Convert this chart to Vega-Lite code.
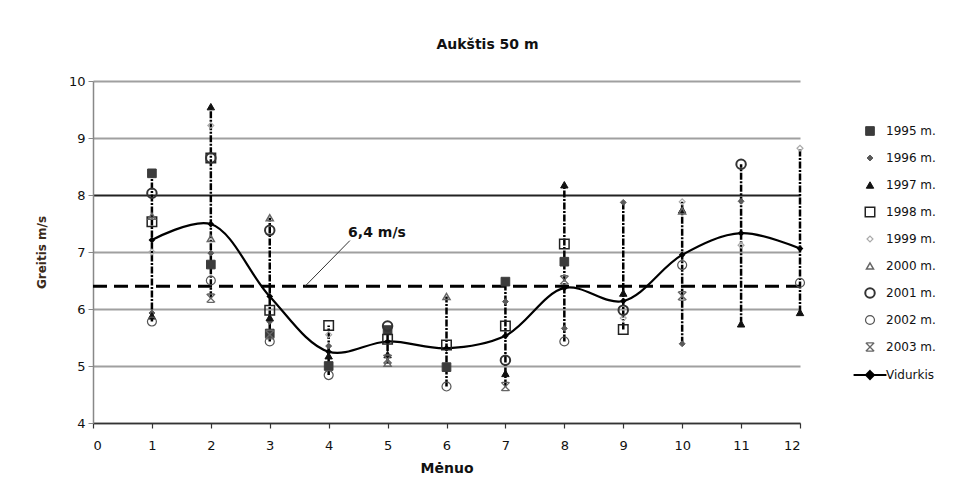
{
  "$schema": "https://vega.github.io/schema/vega-lite/v6.json",
  "width": 707,
  "height": 342,
  "autosize": {"type": "none"},
  "padding": {"left": 93, "top": 81, "right": 177, "bottom": 61},
  "background": "white",
  "title": {"text": "Aukštis 50 m", "font": "DejaVu Sans", "fontSize": 14, "fontWeight": "bold", "color": "#111", "anchor": "middle", "dx": 41, "offset": 23},
  "config": {"view": {"stroke": null}},
  "datasets": {
    "obs": [
      {"m": 1, "yr": "1995 m.", "v": 8.38}, {"m": 1, "yr": "1996 m.", "v": 5.93}, {"m": 1, "yr": "1997 m.", "v": 5.88}, {"m": 1, "yr": "1998 m.", "v": 7.53}, {"m": 1, "yr": "1999 m.", "v": 7.0}, {"m": 1, "yr": "2000 m.", "v": 7.63}, {"m": 1, "yr": "2001 m.", "v": 8.03}, {"m": 1, "yr": "2002 m.", "v": 5.78},
      {"m": 2, "yr": "1995 m.", "v": 6.78}, {"m": 2, "yr": "1996 m.", "v": 6.98}, {"m": 2, "yr": "1997 m.", "v": 9.55}, {"m": 2, "yr": "1998 m.", "v": 8.65}, {"m": 2, "yr": "1999 m.", "v": 9.22}, {"m": 2, "yr": "2000 m.", "v": 7.24}, {"m": 2, "yr": "2001 m.", "v": 8.65}, {"m": 2, "yr": "2002 m.", "v": 6.5}, {"m": 2, "yr": "2003 m.", "v": 6.19},
      {"m": 3, "yr": "1995 m.", "v": 5.57}, {"m": 3, "yr": "1996 m.", "v": 5.78}, {"m": 3, "yr": "1997 m.", "v": 5.85}, {"m": 3, "yr": "1998 m.", "v": 5.98}, {"m": 3, "yr": "2000 m.", "v": 7.6}, {"m": 3, "yr": "2001 m.", "v": 7.38}, {"m": 3, "yr": "2002 m.", "v": 5.43}, {"m": 3, "yr": "2003 m.", "v": 5.55},
      {"m": 4, "yr": "1995 m.", "v": 5.0}, {"m": 4, "yr": "1996 m.", "v": 5.35}, {"m": 4, "yr": "1997 m.", "v": 5.18}, {"m": 4, "yr": "1998 m.", "v": 5.71}, {"m": 4, "yr": "1999 m.", "v": 5.55}, {"m": 4, "yr": "2002 m.", "v": 4.84},
      {"m": 5, "yr": "1995 m.", "v": 5.63}, {"m": 5, "yr": "1997 m.", "v": 5.2}, {"m": 5, "yr": "1998 m.", "v": 5.47}, {"m": 5, "yr": "2000 m.", "v": 5.05}, {"m": 5, "yr": "2001 m.", "v": 5.7}, {"m": 5, "yr": "2003 m.", "v": 5.12},
      {"m": 6, "yr": "1995 m.", "v": 4.98}, {"m": 6, "yr": "1998 m.", "v": 5.37}, {"m": 6, "yr": "2000 m.", "v": 6.22}, {"m": 6, "yr": "2002 m.", "v": 4.64},
      {"m": 7, "yr": "1995 m.", "v": 6.48}, {"m": 7, "yr": "1996 m.", "v": 6.13}, {"m": 7, "yr": "1997 m.", "v": 4.87}, {"m": 7, "yr": "1998 m.", "v": 5.7}, {"m": 7, "yr": "2001 m.", "v": 5.1}, {"m": 7, "yr": "2003 m.", "v": 4.64},
      {"m": 8, "yr": "1995 m.", "v": 6.83}, {"m": 8, "yr": "1996 m.", "v": 5.66}, {"m": 8, "yr": "1997 m.", "v": 8.18}, {"m": 8, "yr": "1998 m.", "v": 7.14}, {"m": 8, "yr": "2002 m.", "v": 5.43}, {"m": 8, "yr": "2003 m.", "v": 6.51},
      {"m": 9, "yr": "1996 m.", "v": 7.87}, {"m": 9, "yr": "1997 m.", "v": 6.28}, {"m": 9, "yr": "1998 m.", "v": 5.64}, {"m": 9, "yr": "1999 m.", "v": 5.84}, {"m": 9, "yr": "2001 m.", "v": 5.98},
      {"m": 10, "yr": "1996 m.", "v": 5.39}, {"m": 10, "yr": "1997 m.", "v": 7.74}, {"m": 10, "yr": "1999 m.", "v": 7.88}, {"m": 10, "yr": "2000 m.", "v": 7.72}, {"m": 10, "yr": "2002 m.", "v": 6.77}, {"m": 10, "yr": "2003 m.", "v": 6.23},
      {"m": 11, "yr": "1996 m.", "v": 7.89}, {"m": 11, "yr": "1997 m.", "v": 5.74}, {"m": 11, "yr": "1999 m.", "v": 7.12}, {"m": 11, "yr": "2001 m.", "v": 8.54},
      {"m": 12, "yr": "1997 m.", "v": 5.94}, {"m": 12, "yr": "1999 m.", "v": 8.82}, {"m": 12, "yr": "2002 m.", "v": 6.46}
    ],
    "avg": [
      {"m": 1, "v": 7.21}, {"m": 2, "v": 7.49}, {"m": 3, "v": 6.22}, {"m": 4, "v": 5.25}, {"m": 5, "v": 5.43}, {"m": 6, "v": 5.31},
      {"m": 7, "v": 5.53}, {"m": 8, "v": 6.37}, {"m": 9, "v": 6.14}, {"m": 10, "v": 6.95}, {"m": 11, "v": 7.33}, {"m": 12, "v": 7.06}
    ],
    "ref": [{"v": 6.4}],
    "note": [{"x": 4.82, "y": 7.33, "x2": 4.36, "y2": 7.2, "x3": 3.6, "y3": 6.4, "label": "6,4 m/s"}]
  },
  "layer": [
    {
      "data": {"name": "obs"},
      "mark": {"type": "rule", "color": "#000", "strokeWidth": 2.5, "strokeDash": [7, 1.5, 2, 1.5]},
      "encoding": {
        "x": {"field": "m", "type": "quantitative", "scale": {"domain": [0, 12], "nice": false},
          "axis": {"values": [0,1,2,3,4,5,6,7,8,9,10,11,12], "format": "d", "title": "Mėnuo", "grid": false, "domainColor": "#333", "domainWidth": 1.5, "tickColor": "#333", "tickWidth": 1.2, "tickSize": 5,
            "labelFont": "DejaVu Sans", "labelFontSize": 13, "labelColor": "#111", "labelPadding": 11,
            "titleFont": "DejaVu Sans", "titleFontSize": 14, "titleFontWeight": "bold", "titleColor": "#111", "titlePadding": 9}},
        "y": {"aggregate": "min", "field": "v", "type": "quantitative", "scale": {"domain": [4, 10], "nice": false},
          "axis": {"values": [4,5,6,7,8,9,10], "format": "d", "title": "Greitis m/s", "grid": true,
            "gridColor": {"condition": {"test": "datum.value === 8", "value": "#222"}, "value": "#a0a0a0"}, "gridWidth": 1.8,
            "domainColor": "#888", "domainWidth": 1.5, "tickColor": "#888", "tickSize": 5, "labelPadding": 3,
            "labelFont": "DejaVu Sans", "labelFontSize": 13, "labelColor": "#111",
            "titleFont": "DejaVu Sans", "titleFontSize": 12, "titleFontWeight": "bold", "titleColor": "#3a2a1a", "titlePadding": 20}},
        "y2": {"aggregate": "max", "field": "v"}
      }
    },
    {
      "data": {"name": "ref"},
      "mark": {"type": "rule", "color": "#000", "strokeWidth": 3, "strokeDash": [14, 7]},
      "encoding": {"y": {"field": "v", "type": "quantitative"}}
    },
    {
      "data": {"name": "note"},
      "mark": {"type": "rule", "color": "#333", "strokeWidth": 1},
      "encoding": {
        "x": {"field": "x2", "type": "quantitative"}, "y": {"field": "y2", "type": "quantitative"},
        "x2": {"field": "x3"}, "y2": {"field": "y3"}
      }
    },
    {
      "data": {"name": "note"},
      "mark": {"type": "text", "font": "DejaVu Sans", "fontSize": 14, "fontWeight": "bold", "color": "#111"},
      "encoding": {
        "x": {"field": "x", "type": "quantitative"}, "y": {"field": "y", "type": "quantitative"},
        "text": {"field": "label"}
      }
    },
    {
      "data": {"name": "avg"},
      "mark": {"type": "line", "color": "#000", "strokeWidth": 2.2, "interpolate": "catmull-rom"},
      "encoding": {
        "x": {"field": "m", "type": "quantitative"}, "y": {"field": "v", "type": "quantitative"}
      }
    },
    {
      "data": {"name": "avg"},
      "mark": {"type": "point", "shape": "diamond", "filled": true, "color": "#000", "size": 45, "opacity": 1},
      "encoding": {
        "x": {"field": "m", "type": "quantitative"}, "y": {"field": "v", "type": "quantitative"}
      }
    },
    {
      "data": {"name": "obs"},
      "mark": {"type": "point", "opacity": 1},
      "encoding": {
        "x": {"field": "m", "type": "quantitative"},
        "y": {"field": "v", "type": "quantitative"},
        "shape": {"field": "yr", "type": "nominal",
          "scale": {"domain": ["1995 m.","1996 m.","1997 m.","1998 m.","1999 m.","2000 m.","2001 m.","2002 m.","2003 m.","Vidurkis"],
            "range": ["square","diamond","triangle-up","square","diamond","triangle-up","circle","circle","M-1,-1L1,1M-1,1L1,-1M-0.8,-1H0.8M-0.8,1H0.8","M-3,0H3M0,-0.7L0.7,0L0,0.7L-0.7,0Z"]},
          "legend": {"orient": "none", "legendX": 770, "legendY": 44, "title": null, "labelFont": "DejaVu Sans", "labelFontSize": 12, "labelColor": "#111", "labelOffset": 9, "rowPadding": 8, "gridAlign": "all"}},
        "fill": {"field": "yr", "type": "nominal",
          "scale": {"domain": ["1995 m.","1996 m.","1997 m.","1998 m.","1999 m.","2000 m.","2001 m.","2002 m.","2003 m.","Vidurkis"],
            "range": ["#3c3c3c","#5a5a5a","#111111","transparent","transparent","transparent","transparent","transparent","transparent","#000000"]},
          "legend": {"orient": "none", "legendX": 770, "legendY": 44, "title": null, "labelFont": "DejaVu Sans", "labelFontSize": 12, "labelColor": "#111", "labelOffset": 9, "rowPadding": 8, "gridAlign": "all"}},
        "stroke": {"field": "yr", "type": "nominal",
          "scale": {"domain": ["1995 m.","1996 m.","1997 m.","1998 m.","1999 m.","2000 m.","2001 m.","2002 m.","2003 m.","Vidurkis"],
            "range": ["#3c3c3c","#5a5a5a","#111111","#222222","#aaaaaa","#666666","#333333","#555555","#666666","#000000"]},
          "legend": {"orient": "none", "legendX": 770, "legendY": 44, "title": null, "labelFont": "DejaVu Sans", "labelFontSize": 12, "labelColor": "#111", "labelOffset": 9, "rowPadding": 8, "gridAlign": "all"}},
        "size": {"field": "yr", "type": "nominal",
          "scale": {"type": "ordinal", "domain": ["1995 m.","1996 m.","1997 m.","1998 m.","1999 m.","2000 m.","2001 m.","2002 m.","2003 m.","Vidurkis"],
            "range": [75, 35, 55, 90, 35, 50, 90, 80, 70, 120]},
          "legend": {"orient": "none", "legendX": 770, "legendY": 44, "title": null, "labelFont": "DejaVu Sans", "labelFontSize": 12, "labelColor": "#111", "labelOffset": 9, "rowPadding": 8, "gridAlign": "all"}},
        "strokeWidth": {"field": "yr", "type": "nominal",
          "scale": {"type": "ordinal", "domain": ["1995 m.","1996 m.","1997 m.","1998 m.","1999 m.","2000 m.","2001 m.","2002 m.","2003 m.","Vidurkis"],
            "range": [1, 1, 1, 1.5, 1.2, 1.5, 2, 1.2, 1.3, 2.2]},
          "legend": {"orient": "none", "legendX": 770, "legendY": 44, "title": null, "labelFont": "DejaVu Sans", "labelFontSize": 12, "labelColor": "#111", "labelOffset": 9, "rowPadding": 8, "gridAlign": "all"}}
      }
    }
  ]
}
